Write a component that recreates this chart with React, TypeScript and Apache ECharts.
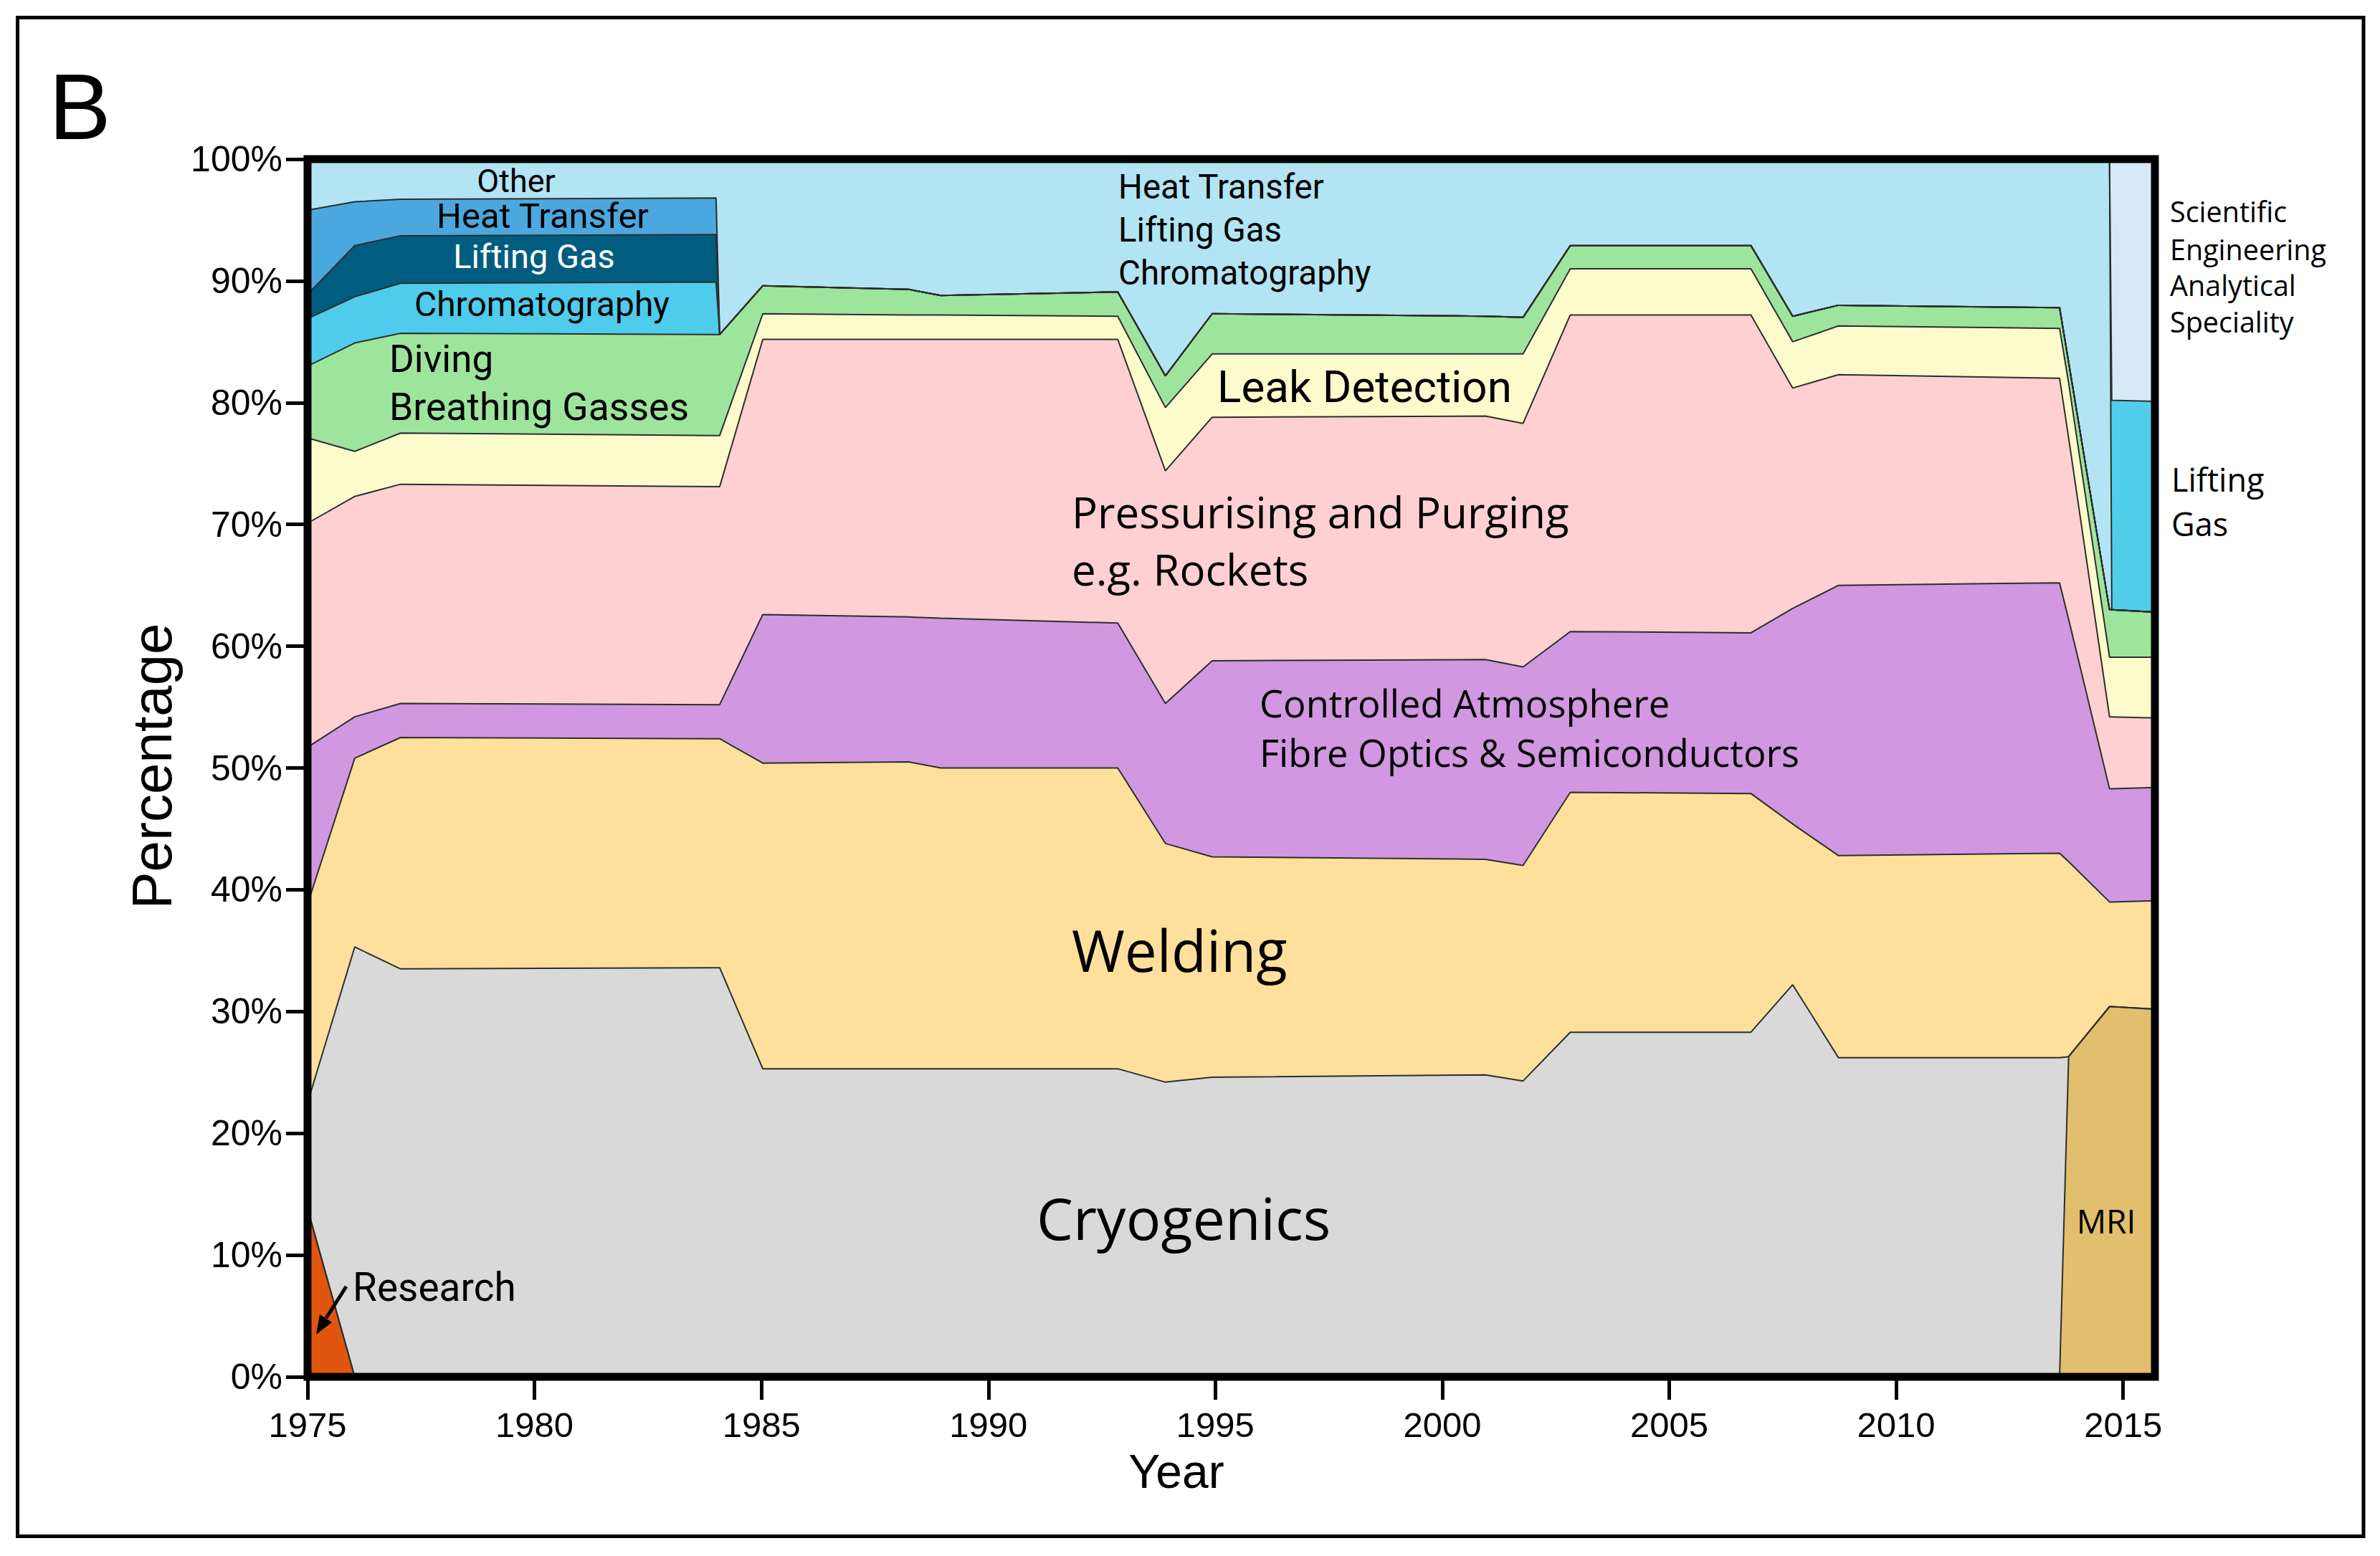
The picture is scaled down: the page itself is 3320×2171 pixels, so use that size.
import React, { useEffect, useRef } from 'react';
import * as echarts from 'echarts';

// x positions (years) of the vertices
const years = [1975, 1976.04, 1977.05, 1984.0, 1984.08, 1985.03, 1988.25, 1988.95, 1992.85, 1993.9, 1994.93, 2000.95, 2001.78, 2002.82, 2006.8, 2007.72, 2008.73, 2013.6, 2013.8, 2014.7, 2014.75, 2015.7];
const xTickYears = [1975, 1980, 1985, 1990, 1995, 2000, 2005, 2010, 2015];

// share of each use (%), bottom to top of the stack
const research = [13.8, 0, 0, 0, 0, 0, 0, 0, 0, 0, 0, 0, 0, 0, 0, 0, 0, 0, 0, 0, 0, 0];
const mri = [0, 0, 0, 0, 0, 0, 0, 0, 0, 0, 0, 0, 0, 0, 0, 0, 0, 0, 26.3, 30.4, 30.4, 30.2];
const cryogenics = [8.7, 35.3, 33.5, 33.6, 33.6, 25.3, 25.3, 25.3, 25.3, 24.2, 24.6, 24.8, 24.3, 28.3, 28.3, 32.2, 26.2, 26.2, 0, 0, 0, 0];
const welding = [16.3, 15.5, 19.0, 18.8, 18.8, 25.1, 25.2, 24.7, 24.7, 19.6, 18.1, 17.7, 17.7, 19.7, 19.6, 13.2, 16.6, 16.8, 16.0, 8.6, 8.6, 8.9];
const controlledAtmosphere = [12.9, 3.4, 2.8, 2.8, 2.8, 12.2, 11.9, 12.3, 11.9, 11.5, 16.1, 16.4, 16.3, 13.2, 13.2, 17.7, 22.2, 22.2, 19.9, 9.3, 9.3, 9.3];
const pressurising = [18.4, 18.1, 18.0, 17.9, 17.9, 22.6, 22.8, 22.9, 23.3, 19.1, 20.0, 20.0, 20.0, 26.0, 26.1, 18.1, 17.3, 16.8, 14.9, 5.9, 5.9, 5.7];
const leakDetection = [7.0, 3.7, 4.2, 4.2, 4.2, 2.1, 2.0, 2.0, 1.9, 5.2, 5.2, 5.1, 5.7, 3.8, 3.8, 3.8, 4.0, 4.1, 4.5, 4.9, 4.9, 5.0];
const diving = [5.9, 8.9, 8.2, 8.3, 8.3, 2.3, 2.1, 1.6, 2.0, 2.6, 3.3, 3.1, 3.0, 1.9, 1.9, 2.1, 1.7, 1.7, 1.7, 3.9, 3.9, 3.7];
const chromatography = [3.9, 3.8, 4.1, 4.3, 0, 0, 0, 0, 0, 0, 0, 0, 0, 0, 0, 0, 0, 0, 0, 0, 0, 0];
const liftingGas = [2.0, 4.2, 3.9, 3.9, 0, 0, 0, 0, 0, 0, 0, 0, 0, 0, 0, 0, 0, 0, 0, 0, 0, 0];
const heatTransfer = [6.9, 3.6, 3.0, 3.0, 0, 0, 0, 0, 0, 0, 0, 0, 0, 0, 0, 0, 0, 0, 0, 0, 0, 0];
const otherUses = [4.2, 3.5, 3.3, 3.2, 14.4, 10.4, 10.7, 11.2, 10.9, 17.8, 12.7, 12.9, 13.0, 7.1, 7.1, 12.9, 12.0, 12.2, 16.7, 37.0, 0, 0];
const liftingGas2015 = [0, 0, 0, 0, 0, 0, 0, 0, 0, 0, 0, 0, 0, 0, 0, 0, 0, 0, 0, 0, 17.2, 17.3];
const scientific = [0, 0, 0, 0, 0, 0, 0, 0, 0, 0, 0, 0, 0, 0, 0, 0, 0, 0, 0, 0, 19.8, 19.9];

const layers = [
  { name: 'Research', data: research, color: '#E0560F' },
  { name: 'MRI', data: mri, color: '#E2BF6E' },
  { name: 'Cryogenics', data: cryogenics, color: '#D9D9D9' },
  { name: 'Welding', data: welding, color: '#FEE09C' },
  { name: 'Controlled Atmosphere', data: controlledAtmosphere, color: '#D197E1' },
  { name: 'Pressurising and Purging', data: pressurising, color: '#FED0D1' },
  { name: 'Leak Detection', data: leakDetection, color: '#FDFBCB' },
  { name: 'Diving', data: diving, color: '#9DE59C' },
  { name: 'Chromatography', data: chromatography, color: '#4FCCEC' },
  { name: 'Lifting Gas', data: liftingGas, color: '#005D80' },
  { name: 'Heat Transfer', data: heatTransfer, color: '#4BA8DE' },
  { name: 'Other', data: otherUses, color: '#B2E4F4' },
  { name: 'Lifting Gas 2015', data: liftingGas2015, color: '#51CDEC' },
  { name: 'Scientific', data: scientific, color: '#D6E9F6' },
];

const GRID = { left: 429, top: 222, width: 2577, height: 1699 };
const ARIAL = "'Liberation Sans', Arial, sans-serif";
const NARROW = "Roboto, 'Liberation Sans', sans-serif";
const WIDE = "'Open Sans', 'DejaVu Sans', sans-serif";

function txt(text: string, x: number, y: number, size: number, family: string, extra: any = {}) {
  return {
    type: 'text',
    x,
    y,
    z: 50,
    silent: true,
    rotation: extra.rotation || 0,
    style: {
      text,
      fontSize: size,
      fontFamily: family,
      fill: extra.fill || '#000',
      align: extra.align || 'left',
      verticalAlign: 'middle',
    },
  };
}

function buildOption() {
  const acc = years.map(() => 0);
  const built = layers.map((l) => {
    const pts = years.map((x, i) => {
      acc[i] = +(acc[i] + l.data[i]).toFixed(2);
      return [x, acc[i]];
    });
    return {
      type: 'line',
      name: l.name,
      data: pts,
      symbol: 'none',
      silent: true,
      animation: false,
      lineStyle: { color: '#2e2e2e', width: 2 },
      areaStyle: { color: l.color, opacity: 1 },
    };
  });
  // draw top-most cumulative first, lower layers painted over it
  const series = built.slice().reverse();

  const graphic: any[] = [
    {
      type: 'rect',
      z: 40,
      silent: true,
      shape: { x: 24.5, y: 24.5, width: 3272.5, height: 2119 },
      style: { fill: 'transparent', stroke: '#000', lineWidth: 5 },
    },
    {
      type: 'rect',
      z: 60,
      silent: true,
      shape: { x: GRID.left, y: GRID.top, width: GRID.width, height: GRID.height },
      style: { fill: 'transparent', stroke: '#000', lineWidth: 11 },
    },
    txt('B', 68, 149, 130, ARIAL),
    txt('Year', 1641, 2053, 66, ARIAL, { align: 'center' }),
    txt('Percentage', 212, 1069, 78, ARIAL, { align: 'center', rotation: Math.PI / 2 }),
    // left block 1975-1984
    txt('Other', 720, 252, 45, NARROW, { align: 'center' }),
    txt('Heat Transfer', 757, 301, 49, NARROW, { align: 'center' }),
    txt('Lifting Gas', 745, 357, 47, NARROW, { align: 'center', fill: '#ffffff' }),
    txt('Chromatography', 756, 424, 48, NARROW, { align: 'center' }),
    txt('Diving', 543, 501, 53, NARROW),
    txt('Breathing Gasses', 543, 567, 53.5, NARROW),
    // top centre block
    txt('Heat Transfer', 1560, 261, 47.5, NARROW),
    txt('Lifting Gas', 1560, 321, 47.5, NARROW),
    txt('Chromatography', 1560, 381, 47.5, NARROW),
    txt('Leak Detection', 1698, 539, 62, NARROW),
    txt('Pressurising and Purging', 1495, 714, 60, WIDE),
    txt('e.g. Rockets', 1495, 794, 60, WIDE),
    txt('Controlled Atmosphere', 1757, 980, 52.5, WIDE),
    txt('Fibre Optics & Semiconductors', 1757, 1049, 52.5, WIDE),
    txt('Welding', 1495, 1324, 80, WIDE),
    txt('Cryogenics', 1446, 1698, 81, WIDE),
    txt('Research', 492, 1796, 55, NARROW),
    txt('MRI', 2938, 1703, 46, WIDE, { align: 'center' }),
    // right side labels
    txt('Scientific', 3027, 295, 39.5, WIDE),
    txt('Engineering', 3027, 348, 39.5, WIDE),
    txt('Analytical', 3027, 398, 39.5, WIDE),
    txt('Speciality', 3027, 449, 39.5, WIDE),
    txt('Lifting', 3029, 668, 45, WIDE),
    txt('Gas', 3029, 730, 45, WIDE),
    // research arrow
    {
      type: 'line',
      z: 50,
      silent: true,
      shape: { x1: 483, y1: 1795, x2: 455, y2: 1839 },
      style: { stroke: '#000', lineWidth: 5 },
    },
    {
      type: 'polygon',
      z: 50,
      silent: true,
      shape: { points: [[441, 1862], [463, 1845], [446, 1834]] },
      style: { fill: '#000' },
    },
  ];

  return {
    animation: false,
    backgroundColor: '#ffffff',
    grid: { ...GRID, containLabel: false, outerBoundsMode: 'none' },
    xAxis: {
      type: 'value',
      min: 1975,
      max: 2015.7,
      axisLine: { show: false },
      splitLine: { show: false },
      axisTick: {
        show: true,
        length: 32,
        customValues: xTickYears,
        lineStyle: { color: '#000', width: 5 },
      },
      axisLabel: {
        customValues: xTickYears,
        margin: 42,
        fontSize: 49,
        fontFamily: ARIAL,
        color: '#000',
        formatter: (v: number) => String(v),
      },
    },
    yAxis: {
      type: 'value',
      min: 0,
      max: 100,
      interval: 10,
      axisLine: { show: false },
      splitLine: { show: false },
      axisTick: { show: true, length: 30, lineStyle: { color: '#000', width: 5 } },
      axisLabel: {
        margin: 35,
        fontSize: 50,
        fontFamily: ARIAL,
        color: '#000',
        formatter: '{value}%',
      },
    },
    series,
    graphic,
  };
}

export default function App() {
  const ref = useRef<HTMLDivElement>(null);
  useEffect(() => {
    if (!ref.current) return;
    const chart = echarts.init(ref.current, null, { renderer: 'svg' });
    chart.setOption(buildOption() as any);
    return () => chart.dispose();
  }, []);
  return (
    <div
      ref={ref}
      style={{ position: 'fixed', left: 0, top: 0, width: '3320px', height: '2171px', background: '#fff' }}
    />
  );
}
